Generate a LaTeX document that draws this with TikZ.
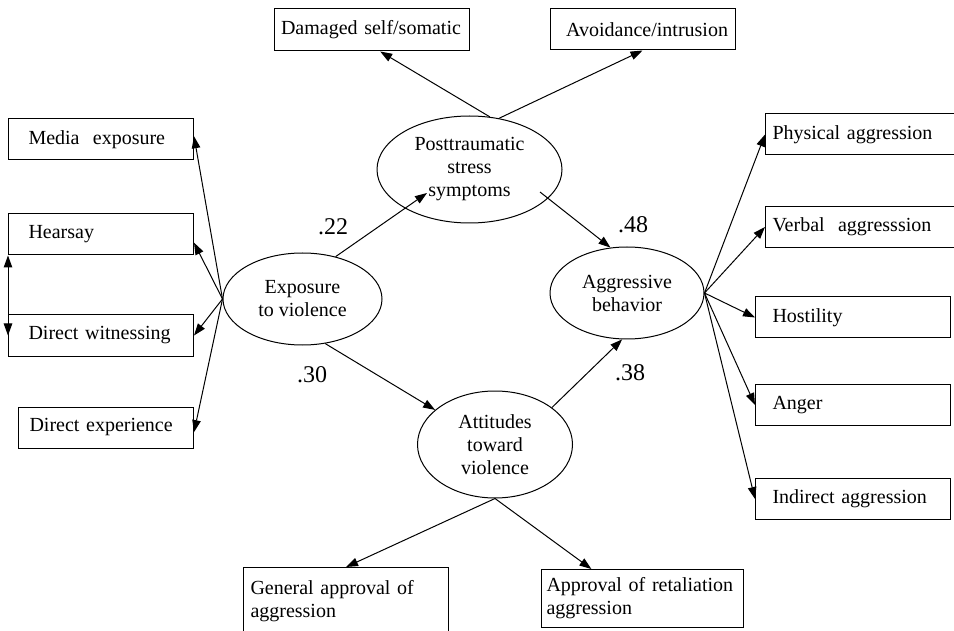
\documentclass[tikz,border=0pt]{standalone}
\usepackage{fontspec}
\setmainfont{Liberation Serif}
\usetikzlibrary{shapes,arrows.meta}

\begin{document}
\begin{tikzpicture}[x=1pt,y=-1pt,>={Triangle[length=12pt,width=8.5pt]}]
                    \tikzstyle{every node}=[font=\fontsize{20}{23}\selectfont]
                    \tikzstyle{item}=[draw,rectangle,align=left,minimum height=41,inner ysep=0,line width=1]
                    \tikzstyle{latent}=[draw,ellipse,align=center,inner sep=0,line width=1]
                    \tikzstyle{weight}=[font=\fontsize{24}{28}\selectfont,inner sep=0]
                    \useasboundingbox (0,0) rectangle (954,631);
                    {
                        \node[latent,minimum width=185,minimum height=107] (ptsd) at (469.5,169.5) {Posttraumatic\\stress\\symptoms};
                        \node[latent,minimum width=159,minimum height=92] (expo) at (302.5,299) {Exposure\\to violence};
                        \node[latent,minimum width=154,minimum height=92] (aggr) at (627,293) {Aggressive\\behavior};
                        \node[latent,minimum width=155,minimum height=107] (att) at (495,444.5) {Attitudes\\toward\\violence};

                        \node[item,minimum height=42,text width=181,inner xsep=7] (dam) at (371.5,30) {Damaged self/somatic};
                        \node[item,align=right,text width=171,inner xsep=7] (avoid) at (642.5,29.5) {Avoidance/intrusion};

                        \node[item,anchor=west,text width=145,inner xsep=20] (media) at (8,139.5) {Media\ \ exposure};
                        \node[item,anchor=west,text width=145,inner xsep=20] (hear) at (8,234.5) {Hearsay};
                        \node[item,anchor=west,text width=145,inner xsep=20] (witness) at (8,335.5) {Direct witnessing};
                        \node[item,anchor=west,text width=153,inner xsep=11] (exper) at (18,427.5) {Direct experience};

                        \node[item,anchor=west,text width=181,inner xsep=7] (phys) at (765,134.5) {Physical aggression};
                        \node[item,anchor=west,text width=181,inner xsep=7] (verbal) at (765,227) {Verbal\ \ aggresssion};
                        \node[item,anchor=west,text width=161,inner xsep=17] (host) at (755,317.5) {Hostility};
                        \node[item,anchor=west,text width=161,inner xsep=17] (anger) at (755,405) {Anger};
                        \node[item,anchor=west,text width=161,inner xsep=17] (indir) at (755,499) {Indirect aggression};

                        \node[item,anchor=north west,minimum height=67,text width=191,inner xsep=7] (gen) at (243,567) {General approval of\\aggression};
                        \node[item,anchor=north west,minimum height=58,text width=192,inner xsep=5] (appr) at (541,569) {Approval of retaliation\\aggression};

                        \coordinate (p1) at (427,193);
                        \coordinate (p2) at (540,192);

                        \node[weight] (w22) at (333,227) {.22};
                        \node[weight] (w30) at (312,375) {.30};
                        \node[weight] (w48) at (633,225) {.48};
                        \node[weight] (w38) at (630,373) {.38};

                        \path[->,line width=1]
                            (expo.west) edge (media.2)
                            (expo.west) edge (hear.-5)
                            (expo.west) edge (witness.east)
                            (expo.west) edge (exper.-3)
                            (aggr.east) edge (phys.west)
                            (aggr.east) edge (verbal.west)
                            (aggr.east) edge (host.west)
                            (aggr.east) edge (anger.west)
                            (aggr.east) edge (indir.west)
                            (ptsd.69) edge (dam.-68)
                            (ptsd.60) edge (avoid.south)
                            (att.south) edge (gen.north)
                            (att.south) edge (appr.150)
                            (expo.52) edge (p1)
                            (p2) edge (aggr.110)
                            (expo.-63) edge (att.150)
                            (att.33) edge (aggr.-96);
                        \draw[<->,line width=1] (hear.south west) -- (witness.west);
                    }
                \end{tikzpicture}
\end{document}
